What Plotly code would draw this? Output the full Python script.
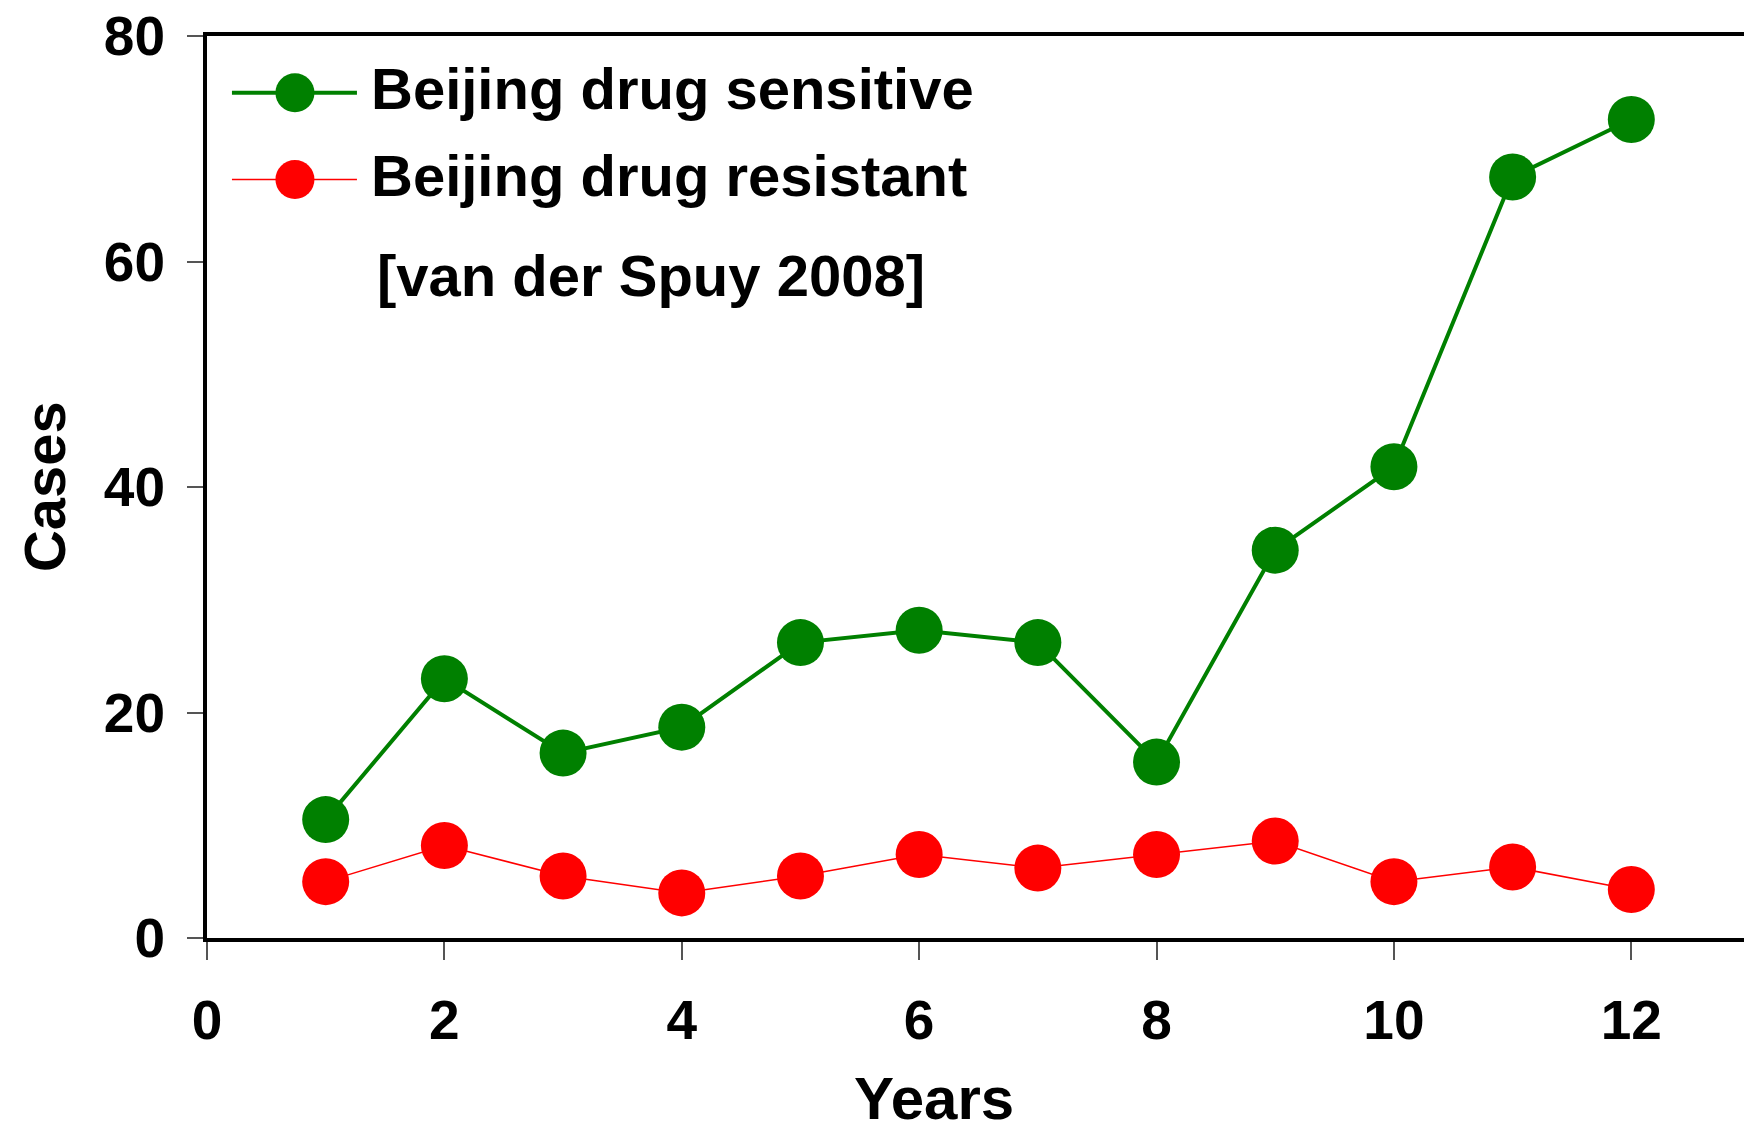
import plotly.graph_objects as go

years = [1, 2, 3, 4, 5, 6, 7, 8, 9, 10, 11, 12]
sensitive = [10.5, 23.0, 16.4, 18.7, 26.2, 27.3, 26.2, 15.6, 34.4, 41.8, 67.5, 72.6]
resistant = [5.0, 8.2, 5.5, 4.0, 5.5, 7.4, 6.2, 7.4, 8.6, 5.0, 6.3, 4.3]

x_ticks = [0, 2, 4, 6, 8, 10, 12]
y_ticks = [0, 20, 40, 60, 80]

GREEN = "#008000"
RED = "#FF0000"
FONT = "Liberation Sans, Arial, sans-serif"

fig = go.Figure()
fig.add_trace(go.Scatter(x=years, y=sensitive, mode="lines+markers",
                         name="Beijing drug sensitive",
                         line=dict(color=GREEN, width=4),
                         marker=dict(color=GREEN, size=47),
                         cliponaxis=False))
fig.add_trace(go.Scatter(x=years, y=resistant, mode="lines+markers",
                         name="Beijing drug resistant",
                         line=dict(color=RED, width=1.5),
                         marker=dict(color=RED, size=47),
                         cliponaxis=False))

# hand-made legend so the key markers can be as big as in the original
legend_rows = [("Beijing drug sensitive", GREEN, 4, 0.937, 0.942),
               ("Beijing drug resistant", RED, 1.5, 0.841, 0.845)]
shapes = []
annotations = []
for label, col, lw, yp, ytxt in legend_rows:
    shapes.append(dict(type="line", xref="paper", yref="paper",
                       xsizemode="pixel", ysizemode="pixel",
                       xanchor=0.057, yanchor=yp,
                       x0=-63, x1=62, y0=0, y1=0,
                       line=dict(color=col, width=lw)))
    shapes.append(dict(type="circle", xref="paper", yref="paper",
                       xsizemode="pixel", ysizemode="pixel",
                       xanchor=0.057, yanchor=yp,
                       x0=-19.5, x1=19.5, y0=-19.5, y1=19.5,
                       fillcolor=col, line=dict(width=0)))
    annotations.append(dict(text=label, xref="paper", yref="paper",
                            x=0.105, y=ytxt, xanchor="left", yanchor="middle",
                            showarrow=False,
                            font=dict(family=FONT, size=58, color="black", weight="bold")))
annotations.append(dict(text="[van der Spuy 2008]", xref="paper", yref="paper",
                        x=0.109, y=0.735, xanchor="left", yanchor="middle",
                        showarrow=False,
                        font=dict(family=FONT, size=58, color="black", weight="bold")))
# axis titles
annotations.append(dict(text="Years", xref="paper", yref="paper",
                        x=0.471, y=-0.178, xanchor="center", yanchor="middle",
                        showarrow=False,
                        font=dict(family=FONT, size=60, color="black", weight="bold")))
annotations.append(dict(text="Cases", xref="paper", yref="paper", textangle=-90,
                        x=-0.1056, y=0.5, xanchor="center", yanchor="middle",
                        showarrow=False,
                        font=dict(family=FONT, size=58, color="black", weight="bold")))
# thin right border
shapes.append(dict(type="line", xref="paper", yref="paper", x0=1, x1=1, y0=0, y1=1,
                   line=dict(color="black", width=2)))

# page body adds an 8px offset, so the figure is 8px smaller
fig.update_layout(
    width=1744, height=1123,
    margin=dict(l=199, r=2, t=28, b=193),
    paper_bgcolor="white", plot_bgcolor="white",
    showlegend=False,
    font=dict(family=FONT, color="black", weight="bold"),
    shapes=shapes, annotations=annotations,
)
fig.update_xaxes(range=[0, 13], tickvals=x_ticks, showgrid=False, zeroline=False,
                 automargin=False, ticklabeloverflow="allow",
                 showline=True, linecolor="black", linewidth=4, mirror=True,
                 ticks="outside", ticklen=18, tickwidth=2, tickcolor="#555",
                 ticklabelstandoff=13,
                 tickfont=dict(family=FONT, size=55, color="black", weight="bold"))
fig.update_yaxes(range=[0, 80], tickvals=y_ticks, showgrid=False, zeroline=False,
                 automargin=False, ticklabeloverflow="allow",
                 showline=True, linecolor="black", linewidth=4,
                 ticks="outside", ticklen=16, tickwidth=2, tickcolor="#555",
                 ticklabelstandoff=11,
                 tickfont=dict(family=FONT, size=55, color="black", weight="bold"))

fig.write_html("out.html")
